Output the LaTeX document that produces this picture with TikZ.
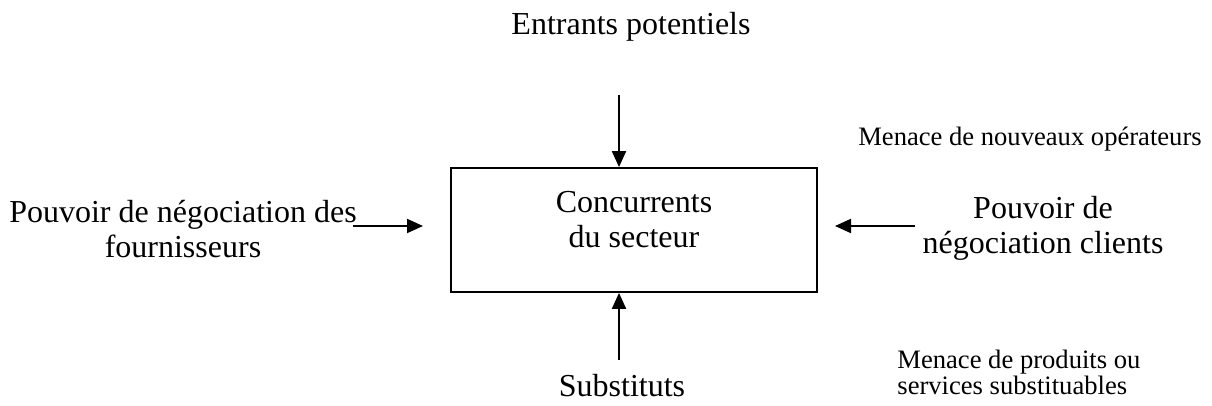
\documentclass[tikz,border=0pt]{standalone}
\usepackage{fontspec}
\setmainfont{Liberation Serif}
\usepackage{tikz}
\usetikzlibrary{arrows.meta,positioning,calc}

\tikzset{
  bigtxt/.style={inner sep=0pt, align=center, font=\fontsize{16}{17.5}\selectfont},
  smalltxt/.style={inner sep=0pt, align=center, font=\fontsize{13.3}{13}\selectfont},
  force/.style={->, line width=1pt}
}

\begin{document}
\begin{tikzpicture}[x=0.5pt, y=-0.5pt, >={Triangle[length=8pt,width=7pt]}]
  \useasboundingbox (0,0) rectangle (1212,406);
  \node (box) [draw, line width=0.9pt, minimum width=183pt, minimum height=62pt] at (634,230) {};
  \node (conc) [bigtxt, yshift=5.25pt] at (box) {Concurrents\\du secteur};
  \node (entr) [bigtxt] at (631,27) {Entrants potentiels};
  \node (newop) [smalltxt] at (1030,139) {Menace de nouveaux opérateurs};
  \node (four) [bigtxt] at (183,229) {Pouvoir de négociation des\\fournisseurs};
  \node (cli) [bigtxt] at (1043,228) {Pouvoir de\\négociation clients};
  \node (subst) [bigtxt] at (622,386) {Substituts};
  \node (subs) [smalltxt, align=left, anchor=west] at (897,372) {Menace de produits ou\\services substituables};
  \coordinate (tin) at (619,95);
  \coordinate (bin) at (619,360);
  \coordinate (lfrom) at (353,226);
  \coordinate (lto) at (423,226);
  \coordinate (rfrom) at (915,226);
  \coordinate (rto) at (835,226);
  \draw[force] (tin) -- (tin |- box.north);
  \draw[force] (bin) -- (bin |- box.south);
  \draw[force] (lfrom) -- (lto);
  \draw[force] (rfrom) -- (rto);
\end{tikzpicture}
\end{document}
